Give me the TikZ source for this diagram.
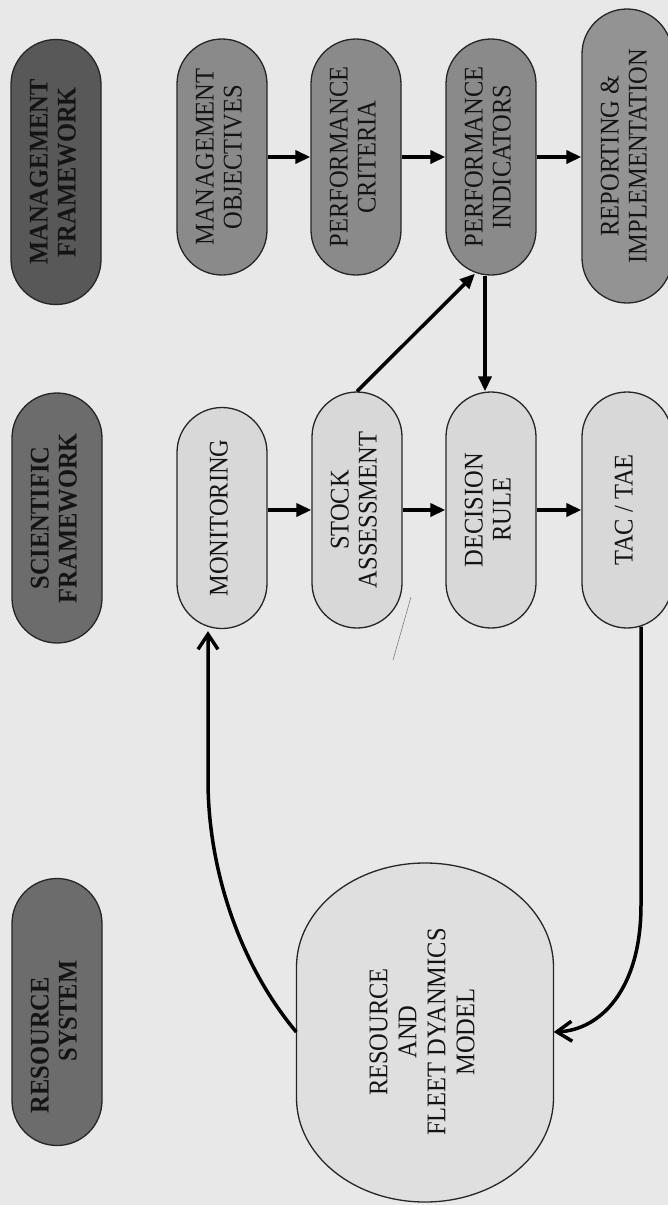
\documentclass[tikz,border=0pt]{standalone}
\usepackage{fontspec}
\setmainfont{Liberation Serif}
\usepackage{graphicx}
\usetikzlibrary{arrows.meta,calc}
\definecolor{bgc}{HTML}{E8E8E8}
\definecolor{darkest}{HTML}{585858}
\definecolor{darkb}{HTML}{6C6C6C}
\definecolor{midb}{HTML}{8A8A8A}
\definecolor{midc}{HTML}{939393}
\definecolor{lightb}{HTML}{D8D8D8}
\definecolor{lightm}{HTML}{DFDFDF}
\newcommand{\rtext}[2][c]{\rotatebox{90}{\scalebox{1}[1.1]{\fontsize{24.5}{25.5}\selectfont\begin{tabular}{@{}#1@{}}#2\end{tabular}}}}
\begin{document}
\begin{tikzpicture}[x=1pt,y=-1pt,
  box/.style={draw=black!85, line width=1.3pt, rounded corners=45pt, minimum width=90pt, inner sep=0pt, text=black!92},
  harrow/.style={line width=3.5pt, -{Triangle[length=15pt,width=13pt]}},
  carrow/.style={line width=3.5pt, -{Straight Barb[length=15pt,width=20pt]}}]
\fill[bgc] (0,0) rectangle (668,1205);
\useasboundingbox (0,0) rectangle (668,1205);
% top row
\node[box, fill=darkest, minimum height=265pt] (mf) at (56,172) {\rtext{\bfseries MANAGEMENT\\\bfseries FRAMEWORK}};
\node[box, fill=midb, minimum height=236pt] (mo) at (222,157) {\rtext{MANAGEMENT\\OBJECTIVES}};
\node[box, fill=midb, minimum height=236pt] (pc) at (356,157) {\rtext{PERFORMANCE\\CRITERIA}};
\node[box, fill=midb, minimum height=236pt] (pi) at (491,157) {\rtext{PERFORMANCE\\INDICATORS}};
\node[box, fill=midc, minimum height=294pt] (ri) at (627,156) {\rtext{REPORTING \&\\IMPLEMENTATION}};
% second row
\node[box, fill=darkb, minimum height=250pt] (sf) at (57,518) {\rtext{\bfseries SCIENTIFIC\\\bfseries FRAMEWORK}};
\node[box, fill=lightb, minimum height=221pt] (mon) at (222,518) {\rtext{MONITORING}};
\node[box, fill=lightb, minimum height=236pt] (sa) at (357,510) {\rtext{STOCK\\ASSESSMENT}};
\node[box, fill=lightb, minimum height=236pt] (dr) at (491,510) {\rtext{DECISION\\RULE}};
\node[box, fill=lightb, minimum height=236pt] (tac) at (627,510) {\rtext{TAC / TAE}};
% bottom
\node[box, fill=darkb, minimum height=267pt] (rs) at (57,1012)
  {\rotatebox{90}{\scalebox{1}[1.1]{\fontsize{24.5}{25.5}\selectfont\begin{tabular}{@{}l@{}}\bfseries RESOURCE\\\hspace*{52pt}\bfseries SYSTEM\end{tabular}}\hspace*{50pt}}};
\draw[draw=black!85, line width=1.3pt, fill=lightm] (296.5,967) -- (296.5,1098)
  arc[start angle=180, end angle=0, x radius=128.5, y radius=104] -- (553.5,967)
  arc[start angle=0, end angle=-180, x radius=128.5, y radius=104] -- cycle;
\node[minimum width=257pt, minimum height=339pt, inner sep=0pt, text=black!92] (model) at (425,1032)
  {\rotatebox{90}{\scalebox{1}[1.1]{\fontsize{24.5}{26.4}\selectfont\begin{tabular}{@{}c@{}}RESOURCE\\AND\\FLEET DYANMICS\\MODEL\end{tabular}}}};
% stray pen mark
\draw[line width=0.5pt, black!55] (411,597) -- (393,660);
% connectors top row
\draw[harrow] (mo) -- (pc);
\draw[harrow] (pc) -- (pi);
\draw[harrow] (pi.east) -- (pi.east -| ri.west);
\draw[harrow] ($(pi.south)+(-6,0)$) -- ($(dr.north)+(-6,0)$);
\draw[harrow] (sa.north) -- ($(pi.south)+(-16,-2)$);
% connectors second row
\draw[harrow] (mon.east |- sa.center) -- (sa.west);
\draw[harrow] (sa) -- (dr);
\draw[harrow] (dr) -- (tac);
% feedback loop
\draw[carrow] ($(tac.south)+(14,-2)$) -- (641,905) .. controls (641,990) and (600,1030) .. (model.east);
\draw[carrow] (model.west) .. controls (240,965) and (208,870) .. (208,780) -- ($(mon.south)+(-14,2)$);
\end{tikzpicture}
\end{document}
